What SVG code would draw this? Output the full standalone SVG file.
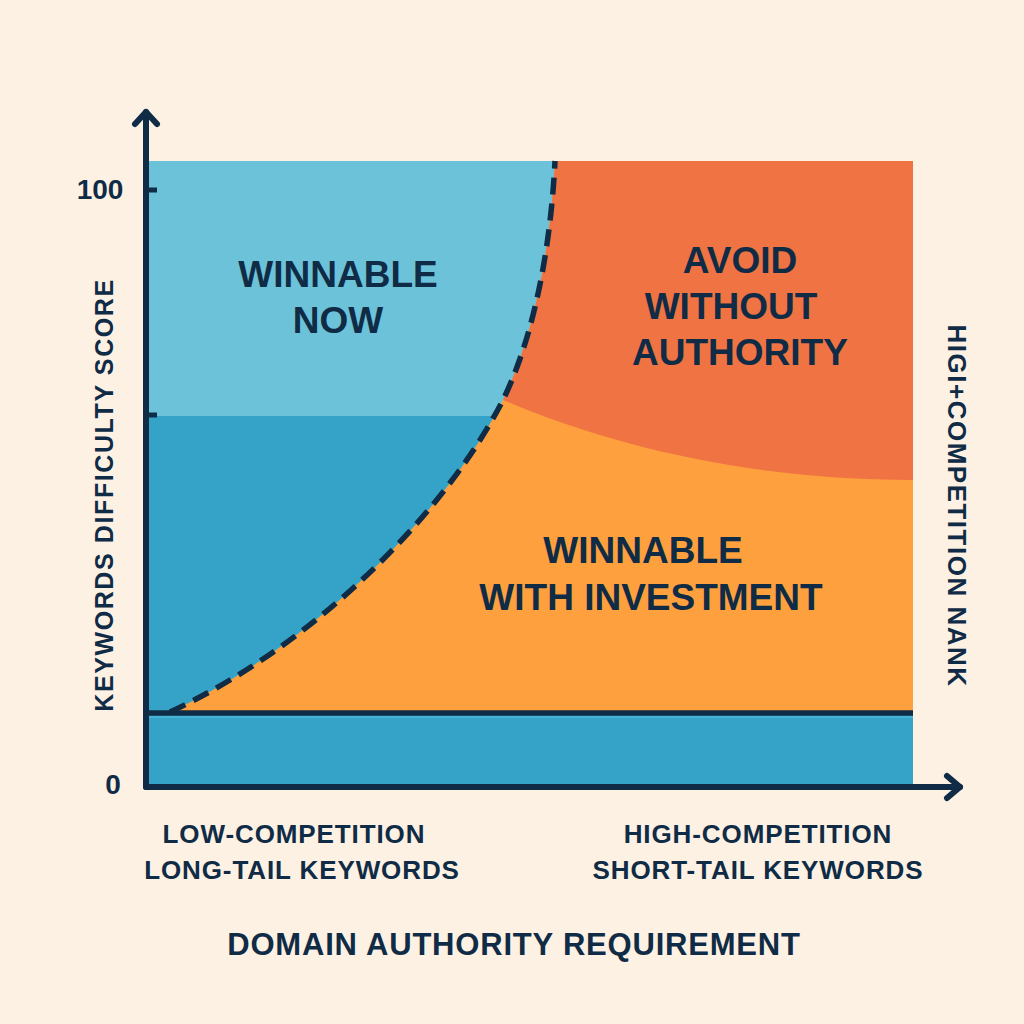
<svg xmlns="http://www.w3.org/2000/svg" width="1024" height="1024" viewBox="0 0 1024 1024">
  <style>
    .lbl { font-family: "Liberation Sans", Arial, sans-serif; font-weight: bold; fill: #0F2B45; text-anchor: middle; }
    .zone { font-size: 37px; }
    .axis { fill: none; stroke: #0F2B45; stroke-width: 6; stroke-linecap: round; stroke-linejoin: round; }
    .tick { stroke: #0F2B45; stroke-width: 5; }
  </style>
  <rect x="0" y="0" width="1024" height="1024" fill="#FDF1E3"/>

  <g id="regions">
    <rect id="dark-blue" x="147" y="161" width="766" height="623" fill="#35A3C8"/>
    <rect id="light-blue" x="147" y="161" width="766" height="255" fill="#6BC2D9"/>
    <path id="orange" d="M170,712 C320,642 448,508 503,400 C536,332 551,241 555,161 L913,161 L913,713 Z" fill="#FDA03D"/>
    <path id="orange-red" d="M503,400 C536,332 551,241 555,161 L913,161 L913,480 C760,480 620,450 503,400 Z" fill="#F07343"/>
  </g>

  <g id="connectors">
    <line x1="147" y1="713" x2="913" y2="713" stroke="#0F2B45" stroke-width="5.5"/>
    <line x1="147" y1="717" x2="913" y2="717" stroke="#5CC3E0" stroke-width="1.2"/>
    <path id="frontier" d="M170,712 C320,642 448,508 503,400 C536,332 551,241 555,161" fill="none" stroke="#0F2B45" stroke-width="5.5" stroke-dasharray="17 9"/>
    <line class="tick" x1="149" y1="190" x2="157" y2="190"/>
    <line class="tick" x1="149" y1="415" x2="157" y2="415"/>
    <path class="axis" d="M146,787 L146,112"/>
    <path class="axis" d="M135,124 L146,112 L157,124"/>
    <path class="axis" d="M146,787 L960,787"/>
    <path class="axis" d="M947,776 L960,787 L947,798"/>
  </g>

  <g id="node-winnable-now">
    <text class="lbl zone" x="338" y="287" font-size="36">WINNABLE</text>
    <text class="lbl zone" x="338" y="333" font-size="36">NOW</text>
  </g>
  <g id="node-avoid">
    <text class="lbl zone" x="740" y="273">AVOID</text>
    <text class="lbl zone" x="731" y="319">WITHOUT</text>
    <text class="lbl zone" x="740" y="365">AUTHORITY</text>
  </g>
  <g id="node-investment">
    <text class="lbl zone" x="643" y="563">WINNABLE</text>
    <text class="lbl zone" x="651" y="610">WITH INVESTMENT</text>
  </g>

  <g id="axis-labels">
    <text class="lbl" x="100" y="199" font-size="28">100</text>
    <text class="lbl" x="113" y="794" font-size="28">0</text>
    <text class="lbl" font-size="25" letter-spacing="1.6" transform="translate(113,495) rotate(-90)">KEYWORDS DIFFICULTY SCORE</text>
    <text class="lbl" font-size="26" letter-spacing="1.5" transform="translate(948,506) rotate(90)">HIGI+COMPETITION NANK</text>
    <text class="lbl" x="294" y="843" font-size="26" letter-spacing="0.9">LOW-COMPETITION</text>
    <text class="lbl" x="302" y="879" font-size="26" letter-spacing="0.9">LONG-TAIL KEYWORDS</text>
    <text class="lbl" x="758" y="843" font-size="26" letter-spacing="0.9">HIGH-COMPETITION</text>
    <text class="lbl" x="758" y="879" font-size="26" letter-spacing="0.9">SHORT-TAIL KEYWORDS</text>
    <text class="lbl" x="514" y="955" font-size="31" letter-spacing="0.8">DOMAIN AUTHORITY REQUIREMENT</text>
  </g>
</svg>
